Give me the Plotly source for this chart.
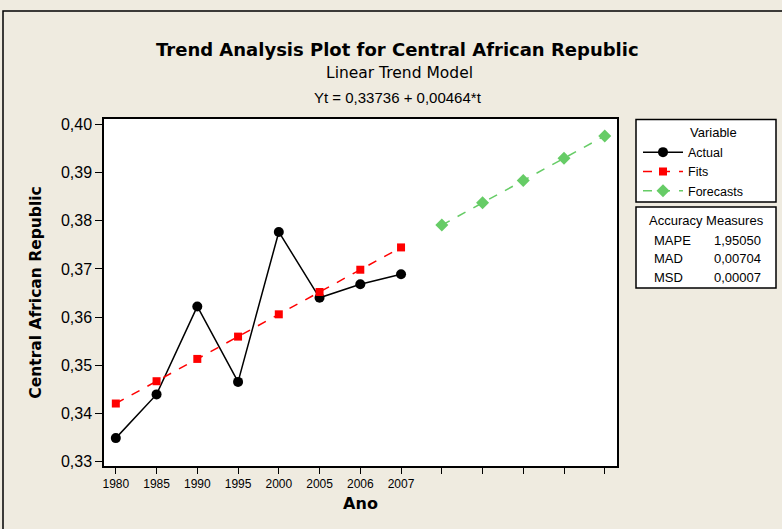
import plotly.graph_objects as go

# tick labels on the x axis (forecast periods have no label)
years = ["1980", "1985", "1990", "1995", "2000", "2005", "2006", "2007", "", "", "", "", ""]
# observed series
actual = [0.3348, 0.3439, 0.3622, 0.3465, 0.3777, 0.3640, 0.3668, 0.3689]
# fitted trend values, t = 1..8
fits = [0.34200, 0.34664, 0.35128, 0.35592, 0.36056, 0.36520, 0.36984, 0.37448]
# forecasts, t = 9..13
forecasts = [0.37912, 0.38376, 0.38840, 0.39304, 0.39768]
acc_names = ["MAPE", "MAD", "MSD"]
acc_values = ["1,95050", "0,00704", "0,00007"]

x_obs = list(range(len(actual)))
x_fc = list(range(len(actual), len(actual) + len(forecasts)))

bg = "#EFEBE0"
font = "Liberation Sans, Arial, sans-serif"
wide = "DejaVu Sans, Verdana, sans-serif"

fig = go.Figure()
fig.add_trace(go.Scatter(x=x_obs, y=actual, name="Actual", mode="lines+markers",
                         line=dict(color="black", width=1.5),
                         marker=dict(symbol="circle", size=10, color="black")))
fig.add_trace(go.Scatter(x=x_obs, y=fits, name="Fits", mode="lines+markers",
                         line=dict(color="#FF0000", width=1.5, dash="dash"),
                         marker=dict(symbol="square", size=8, color="#FF0000")))
fig.add_trace(go.Scatter(x=x_fc, y=forecasts, name="Forecasts", mode="lines+markers",
                         line=dict(color="#66CC66", width=1.5, dash="dash"),
                         marker=dict(symbol="diamond", size=10, color="#66CC66")))

px = lambda v: (v - 104) / 513
py = lambda v: (529 - v - 63) / 347

fig.update_layout(
    width=782, height=529,
    paper_bgcolor=bg, plot_bgcolor="white",
    separators=",.",
    font=dict(family=font, color="black"),
    margin=dict(l=104, r=165, t=119, b=63),
    showlegend=True,
    legend=dict(x=px(638), xanchor="left", y=py(137.5), yanchor="top",
                bgcolor="rgba(0,0,0,0)", borderwidth=0, itemwidth=40,
                font=dict(size=12.5), tracegroupgap=0),
)

fig.update_xaxes(range=[-0.29, 12.3], tickmode="array", tickvals=list(range(len(years))),
                 ticktext=years, ticks="outside", ticklen=6, tickcolor="black",
                 showline=True, linecolor="black", linewidth=1.5, mirror=True,
                 showgrid=False, zeroline=False, tickfont=dict(size=12),
                 title=dict(text="<b>Ano</b>", font=dict(size=16, family=wide), standoff=8))
fig.update_yaxes(range=[0.3290, 0.4012], tickvals=[0.33, 0.34, 0.35, 0.36, 0.37, 0.38, 0.39, 0.40],
                 tickformat=".2f", ticks="outside", ticklen=7, tickcolor="black",
                 showline=True, linecolor="black", linewidth=1.5, mirror=True,
                 showgrid=False, zeroline=False, tickfont=dict(size=16),
                 title=dict(text="<b>Central African Republic</b>", font=dict(size=15.5, family=wide),
                            standoff=15))

# titles
fig.add_annotation(text="<b>Trend Analysis Plot for Central African Republic</b>",
                   xref="paper", yref="paper", x=px(397), y=py(49),
                   showarrow=False, font=dict(size=18, family=wide), xanchor="center", yanchor="middle")
fig.add_annotation(text="Linear Trend Model",
                   xref="paper", yref="paper", x=px(399), y=py(73),
                   showarrow=False, font=dict(size=15.5, family=wide), xanchor="center", yanchor="middle")
fig.add_annotation(text="Yt = 0,33736 + 0,00464*t",
                   xref="paper", yref="paper", x=px(398), y=py(97),
                   showarrow=False, font=dict(size=15), xanchor="center", yanchor="middle")

# outer frame of the graph
fig.add_shape(type="rect", xref="paper", yref="paper",
              x0=px(3), x1=px(790), y0=py(540), y1=py(11),
              line=dict(color="black", width=1.5), layer="below")

# legend box
fig.add_shape(type="rect", xref="paper", yref="paper",
              x0=px(636), x1=px(776), y0=py(202), y1=py(119.5),
              line=dict(color="black", width=1.5), fillcolor="white", layer="below")
fig.add_annotation(text="Variable", xref="paper", yref="paper",
                   x=px(713), y=py(132), xanchor="center", yanchor="middle",
                   showarrow=False, font=dict(size=13))

# accuracy measures box
fig.add_shape(type="rect", xref="paper", yref="paper",
              x0=px(636), x1=px(776), y0=py(288), y1=py(207),
              line=dict(color="black", width=1.5), fillcolor="white", layer="below")
fig.add_annotation(text="Accuracy Measures", xref="paper", yref="paper",
                   x=px(706), y=py(220), xanchor="center", yanchor="middle",
                   showarrow=False, font=dict(size=13))
for i, (n, v) in enumerate(zip(acc_names, acc_values)):
    fig.add_annotation(text=n, xref="paper", yref="paper", x=px(652), y=py(240 + 18.5 * i),
                       xanchor="left", yanchor="middle", showarrow=False, font=dict(size=13))
    fig.add_annotation(text=v, xref="paper", yref="paper", x=px(712), y=py(240 + 18.5 * i),
                       xanchor="left", yanchor="middle", showarrow=False, font=dict(size=13))

fig.write_html("out.html", config={"displayModeBar": False},
               post_script="document.body.style.margin='0';")
